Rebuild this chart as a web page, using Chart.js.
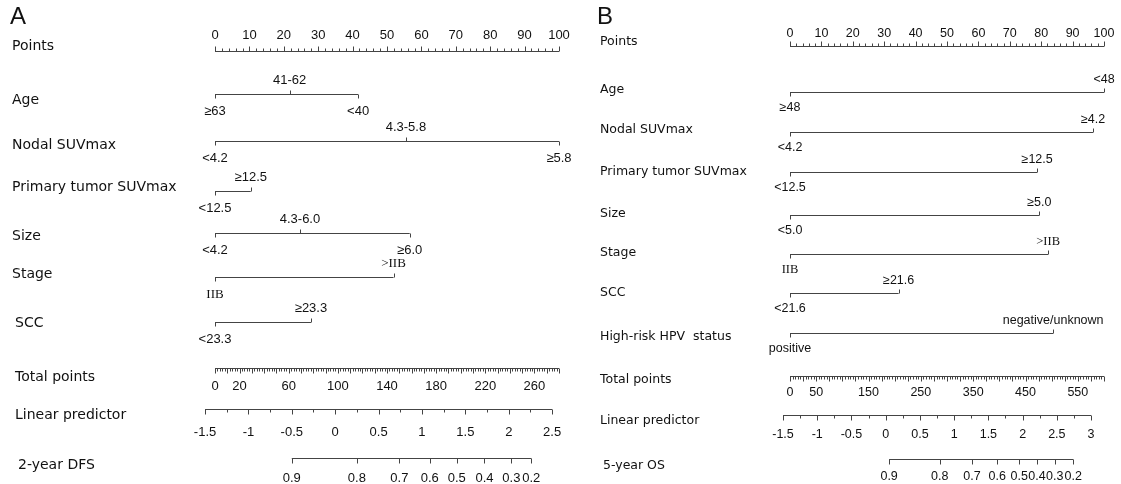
<!DOCTYPE html>
<html>
<head>
<meta charset="utf-8">
<script src="https://cdn.jsdelivr.net/npm/chart.js@4.4.1/dist/chart.umd.min.js"></script>
<style>
  html, body { margin: 0; padding: 0; background: #fff; }
  #wrap  { position: relative; width: 1121px; height: 484px; }
  #boxA  { position: absolute; left: 0;     top: 0; width: 600px; height: 484px; }
  #boxB  { position: absolute; left: 570px; top: 0; width: 551px; height: 484px; }
</style>
</head>
<body>
<div id="wrap">
  <div id="boxA"><canvas id="cA" width="600" height="484"></canvas></div>
  <div id="boxB"><canvas id="cB" width="551" height="484"></canvas></div>
</div>
<script>
/* ================= DATA : A (2-year DFS) ================= */
const A_names  = ["Age", "Nodal SUVmax", "Primary tumor SUVmax", "Size", "Stage", "SCC"];
const A_levels = [["≥63", "41-62", "<40"], ["<4.2", "4.3-5.8", "≥5.8"], ["<12.5", "≥12.5"],
                  ["<4.2", "4.3-6.0", "≥6.0"], ["IIB", ">IIB"], ["<23.3", "≥23.3"]];
const A_points = [[0, 21.7, 41.6], [0, 55.5, 100], [0, 10.4], [0, 24.7, 56.6], [0, 51.9], [0, 27.9]];
const A_totalMax   = 280;
const A_totalTicks = [0, 20, 60, 100, 140, 180, 220, 260];
const A_lpTicks    = [-1.5, -1, -0.5, 0, 0.5, 1, 1.5, 2, 2.5];
const A_survName   = "2-year DFS";
const A_survLabels = ["0.9", "0.8", "0.7", "0.6", "0.5", "0.4", "0.3", "0.2"];
const A_survLP     = [-0.50, 0.25, 0.74, 1.09, 1.40, 1.72, 2.03, 2.26];

/* ================= DATA : B (5-year OS) ================= */
const B_names  = ["Age", "Nodal SUVmax", "Primary tumor SUVmax", "Size", "Stage", "SCC", "High-risk HPV  status"];
const B_levels = [["≥48", "<48"], ["<4.2", "≥4.2"], ["<12.5", "≥12.5"], ["<5.0", "≥5.0"],
                  ["IIB", ">IIB"], ["<21.6", "≥21.6"], ["positive", "negative/unknown"]];
const B_points = [[0, 100], [0, 96.5], [0, 78.7], [0, 79.4], [0, 82.2], [0, 34.6], [0, 83.8]];
const B_totalMax   = 600;
const B_totalTicks = [0, 50, 150, 250, 350, 450, 550];
const B_lpTicks    = [-1.5, -1, -0.5, 0, 0.5, 1, 1.5, 2, 2.5, 3];
const B_survName   = "5-year OS";
const B_survLabels = ["0.9", "0.8", "0.7", "0.6", "0.5", "0.4", "0.3", "0.2"];
const B_survLP     = [0.05, 0.79, 1.26, 1.63, 1.95, 2.21, 2.47, 2.74];

/* ================= LAYOUT (canvas-relative px) ================= */
const INK  = "#111";
const LINE = "#444";

const layoutA = {
  letter: "A", letterX: 10, letterY: 17,
  padL: 215, padR: 41,
  lpAt0: -1.385, lpAt100: 2.579,       // linear predictor under points 0 / 100
  totalStep: [2, 10],                  // minor, major
  nameFont: '14px "DejaVu Sans"', numFont: '13px "Liberation Sans"', lvlFont: '13px "Liberation Sans"',
  serifFont: '13px "Liberation Serif"',
  pointsY: 51.5, pointsNameY: 46, pointsNumDy: -16, pointsNameX: 12,
  varY: [94.5, 141.5, 191.5, 233.5, 277.5, 322.5],
  varNameY: [100, 145, 187, 236, 274, 323], varNameX: [12, 12, 12, 12, 12, 15],
  lvlUp: -14, lvlDown: 17,
  totalY: 368.5, totalNameY: 377, totalNumDy: 18, totalNameX: 15,
  lpY: 409.5, lpNameY: 415, lpNumDy: 23, lpNameX: 15,
  survY: 458.5, survNameY: 465, survNumDy: 20, survNameX: 18
};

const layoutB = {
  letter: "B", letterX: 27, letterY: 17,
  padL: 220, padR: 17,
  lpAt0: -1.398, lpAt100: 3.189,
  totalStep: [5, 25],
  nameFont: '12.5px "DejaVu Sans"', numFont: '12.5px "Liberation Sans"', lvlFont: '12.5px "Liberation Sans"',
  serifFont: '12.5px "Liberation Serif"',
  pointsY: 46.5, pointsNameY: 42, pointsNumDy: -13, pointsNameX: 30,
  varY: [92.5, 132.5, 172.5, 215.5, 254.5, 293.5, 333.5],
  varNameY: [90, 130, 172, 214, 253, 293, 337], varNameX: [30, 30, 30, 30, 30, 30, 30],
  lvlUp: -13, lvlDown: 15,
  totalY: 376.5, totalNameY: 380, totalNumDy: 16, totalNameX: 30,
  lpY: 415.5, lpNameY: 421, lpNumDy: 19, lpNameX: 30,
  survY: 459.5, survNameY: 466, survNumDy: 17, survNameX: 33
};

/* ================= BUILD ================= */
function seg(axis, x0, x1, y) {
  return {
    xAxisID: axis,
    data: [{ x: x0, y }, { x: x1, y }],
    showLine: true, pointRadius: 0, borderColor: LINE, borderWidth: 1, clip: false
  };
}

function makePanel(canvasId, d, L) {
  const datasets = [];
  datasets.push(seg("x", 0, 100, L.pointsY));
  d.points.forEach((p, i) => datasets.push(seg("x", 0, Math.max(...p), L.varY[i])));
  datasets.push(seg("xTot", 0, d.totalMax, L.totalY));
  datasets.push(seg("xLP", d.lpTicks[0], d.lpTicks[d.lpTicks.length - 1], L.lpY));
  datasets.push(seg("xLP", d.survLP[0], d.survLP[d.survLP.length - 1], L.survY));

  const drawer = {
    id: "nomo" + L.letter,
    afterDatasetsDraw(chart) {
      const ctx = chart.ctx;
      const sx = chart.scales.x, st = chart.scales.xTot, sl = chart.scales.xLP, sy = chart.scales.y;
      const Y = v => sy.getPixelForValue(v);
      const tick = (px, y, len) => {
        const xx = Math.round(px) + 0.5;
        ctx.beginPath(); ctx.moveTo(xx, y); ctx.lineTo(xx, y + len); ctx.stroke();
      };
      ctx.save();
      ctx.strokeStyle = LINE; ctx.lineWidth = 1;
      ctx.fillStyle = INK; ctx.textBaseline = "middle";

      // panel letter
      ctx.font = '24px "Liberation Sans"'; ctx.textAlign = "left";
      ctx.fillText(L.letter, L.letterX, L.letterY);

      // row names
      ctx.font = L.nameFont;
      ctx.fillText("Points", L.pointsNameX, Y(L.pointsNameY));
      d.names.forEach((n, i) => ctx.fillText(n, L.varNameX[i], Y(L.varNameY[i])));
      ctx.fillText("Total points", L.totalNameX, Y(L.totalNameY));
      ctx.fillText("Linear predictor", L.lpNameX, Y(L.lpNameY));
      ctx.fillText(d.survName, L.survNameX, Y(L.survNameY));

      // points axis: ticks up, labels above
      ctx.textAlign = "center"; ctx.font = L.numFont;
      for (let v = 0; v <= 100; v += 2) {
        tick(sx.getPixelForValue(v), Y(L.pointsY), v % 10 === 0 ? -5 : -3);
        if (v % 10 === 0) ctx.fillText(String(v), sx.getPixelForValue(v), Y(L.pointsY) + L.pointsNumDy);
      }

      // variables: even levels below (tick down), odd levels above (tick up)
      d.points.forEach((p, i) => {
        const y = Y(L.varY[i]);
        p.forEach((v, j) => {
          const up = j % 2 === 1;
          const px = sx.getPixelForValue(v);
          tick(px, y, up ? -4 : 4);
          const lab = d.levels[i][j];
          ctx.font = lab.includes("IIB") ? L.serifFont : L.lvlFont;
          ctx.fillText(lab, px, y + (up ? L.lvlUp : L.lvlDown));
        });
      });

      // total points: ticks down
      ctx.font = L.numFont;
      const [mn, mj] = L.totalStep;
      for (let v = 0; v <= d.totalMax; v += mn) {
        tick(st.getPixelForValue(v), Y(L.totalY), v % mj === 0 ? 5 : 3);
      }
      d.totalTicks.forEach(v => ctx.fillText(String(v), st.getPixelForValue(v), Y(L.totalY) + L.totalNumDy));

      // linear predictor
      const lp0 = d.lpTicks[0], lp1 = d.lpTicks[d.lpTicks.length - 1];
      for (let k = 0; lp0 + k * 0.25 <= lp1 + 1e-9; k++) {
        tick(sl.getPixelForValue(lp0 + k * 0.25), Y(L.lpY), k % 2 === 0 ? 5 : 3);
      }
      d.lpTicks.forEach(v => ctx.fillText(String(v), sl.getPixelForValue(v), Y(L.lpY) + L.lpNumDy));

      // survival
      d.survLP.forEach((v, i) => {
        const px = sl.getPixelForValue(v);
        tick(px, Y(L.survY), 5);
        ctx.fillText(d.survLabels[i], px, Y(L.survY) + L.survNumDy);
      });

      ctx.restore();
    }
  };

  return new Chart(document.getElementById(canvasId), {
    type: "scatter",
    data: { datasets },
    options: {
      responsive: false,
      animation: false,
      devicePixelRatio: 1,
      layout: { padding: { left: L.padL, right: L.padR, top: 0, bottom: 0 } },
      plugins: { legend: { display: false }, tooltip: { enabled: false } },
      scales: {
        x:    { type: "linear", axis: "x", min: 0, max: 100, display: false },
        xTot: { type: "linear", axis: "x", min: 0, max: d.totalMax, display: false },
        xLP:  { type: "linear", axis: "x", min: L.lpAt0, max: L.lpAt100, display: false },
        y:    { type: "linear", min: 0, max: 484, reverse: true, display: false }
      }
    },
    plugins: [drawer]
  });
}

makePanel("cA", {
  names: A_names, levels: A_levels, points: A_points,
  totalMax: A_totalMax, totalTicks: A_totalTicks, lpTicks: A_lpTicks,
  survName: A_survName, survLabels: A_survLabels, survLP: A_survLP
}, layoutA);

makePanel("cB", {
  names: B_names, levels: B_levels, points: B_points,
  totalMax: B_totalMax, totalTicks: B_totalTicks, lpTicks: B_lpTicks,
  survName: B_survName, survLabels: B_survLabels, survLP: B_survLP
}, layoutB);
</script>
</body>
</html>
